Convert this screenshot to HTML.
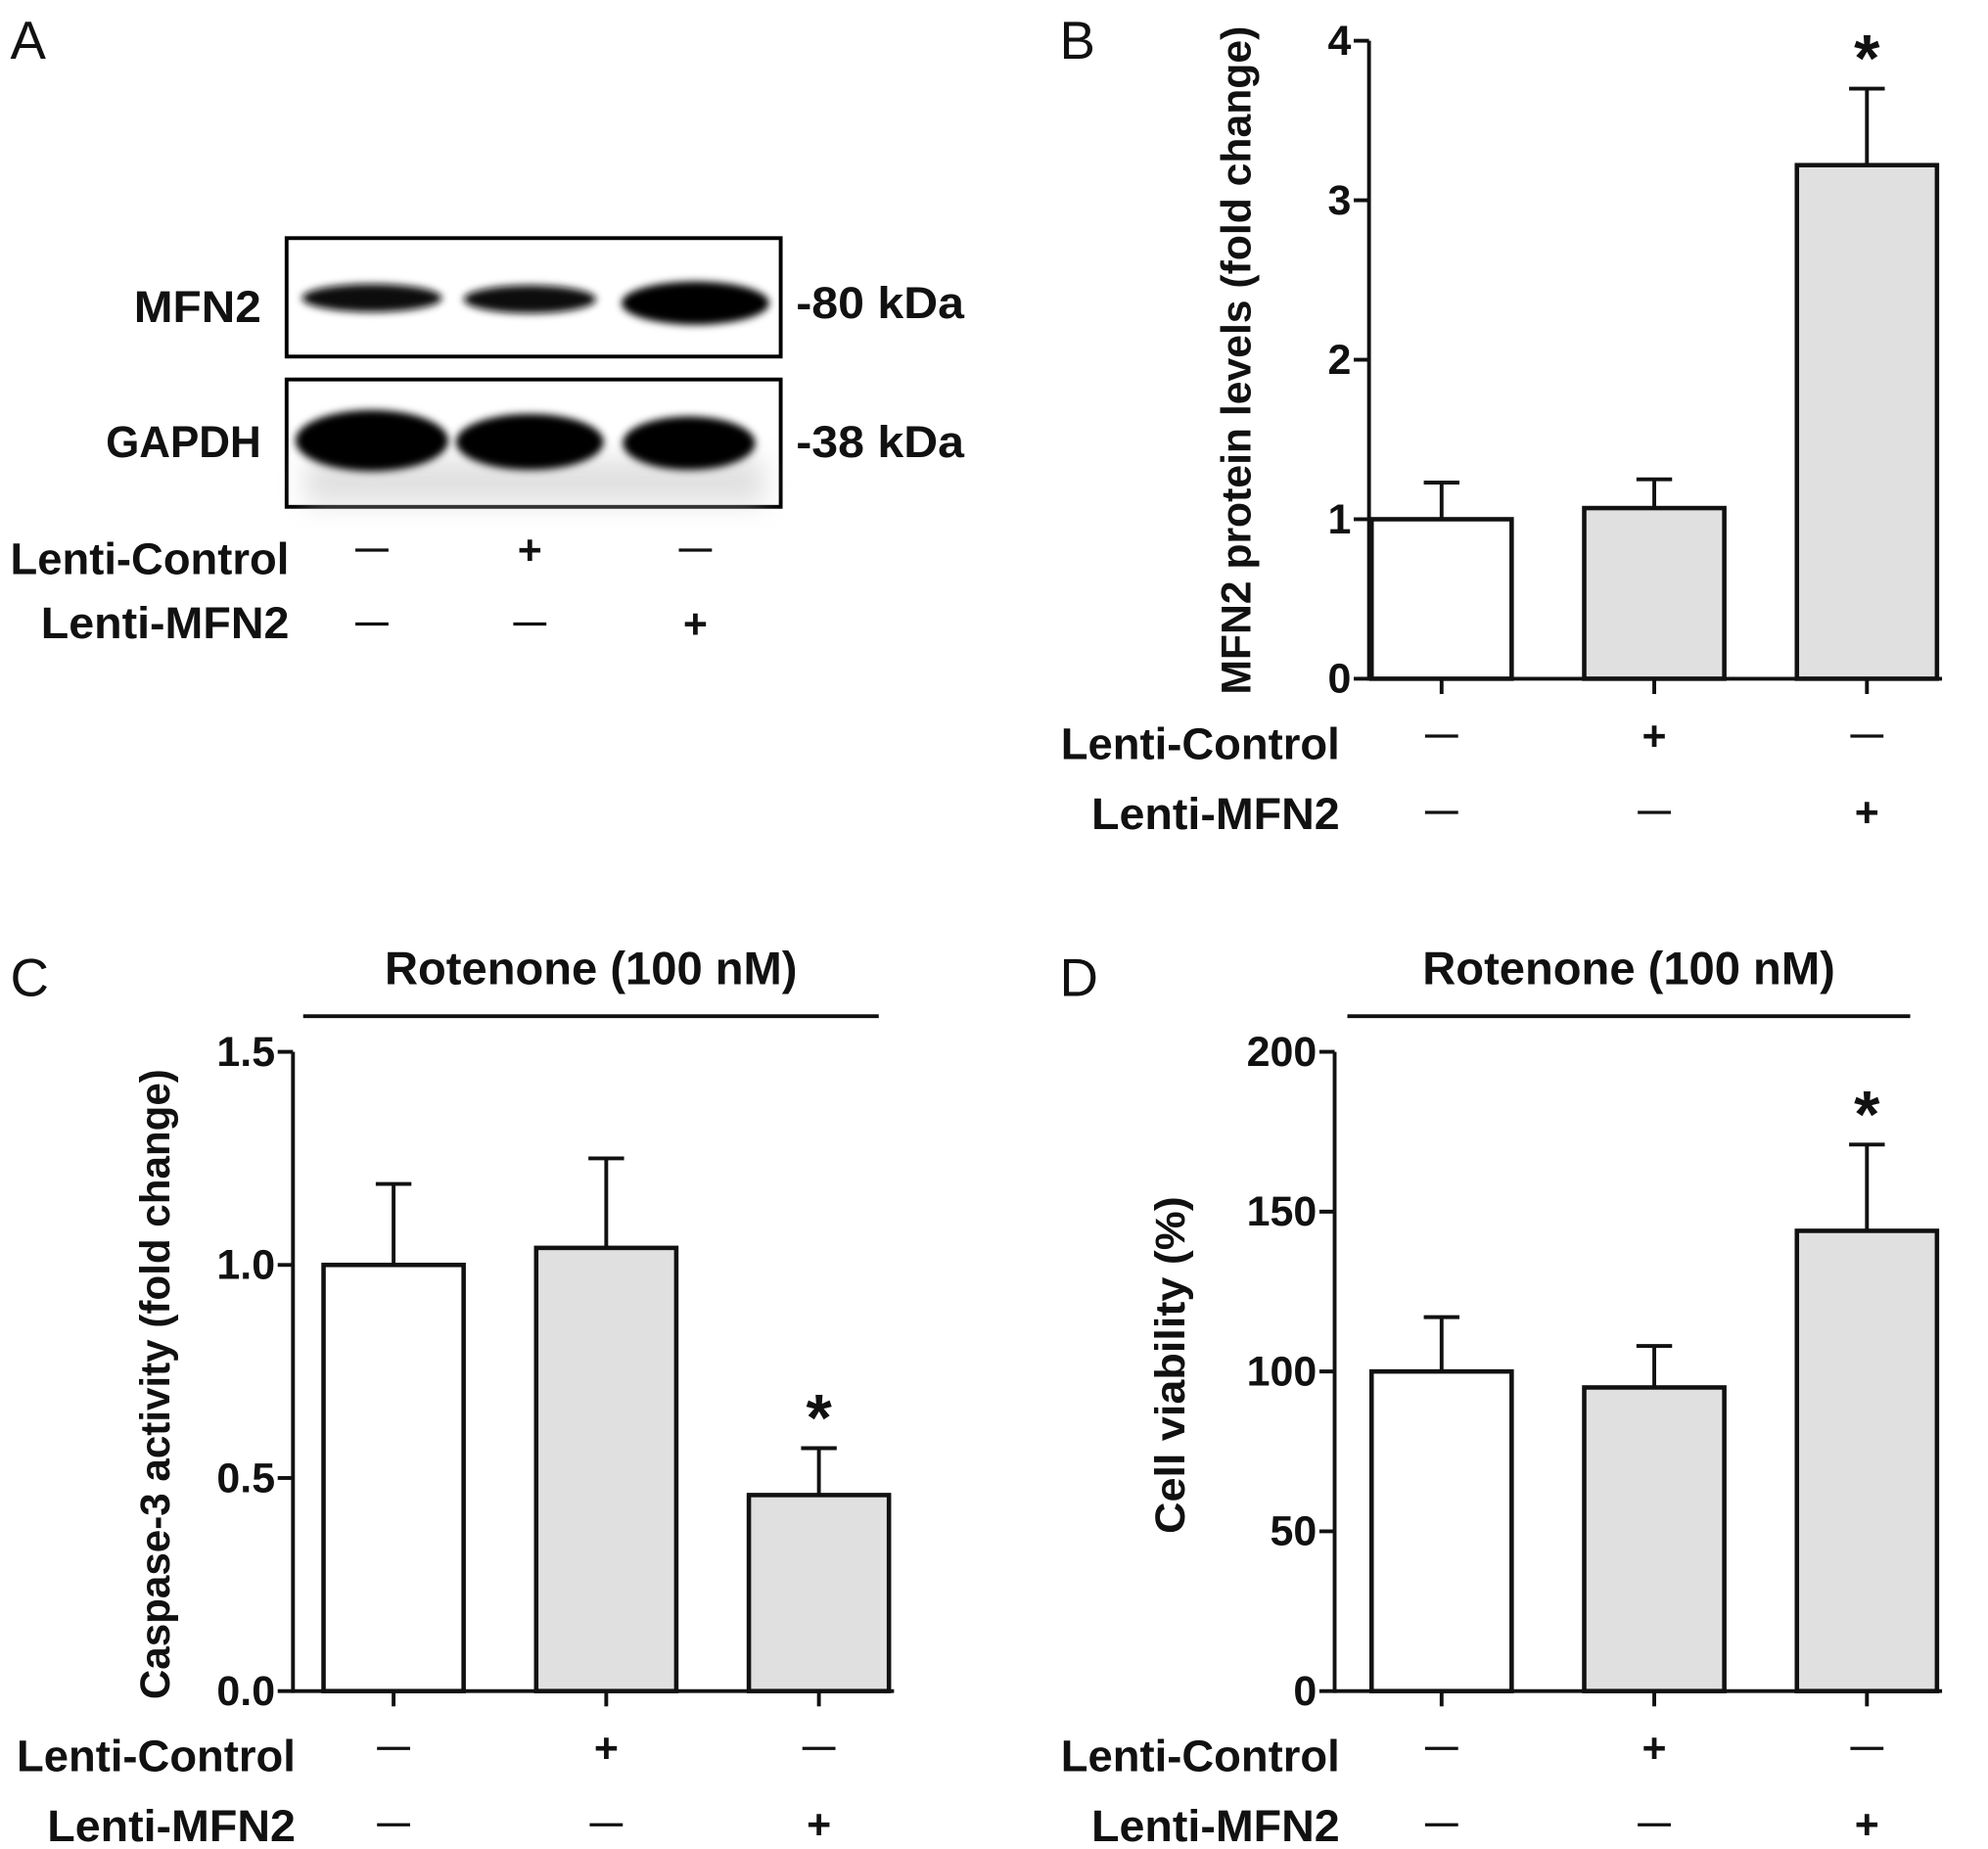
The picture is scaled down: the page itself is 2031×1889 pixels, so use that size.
<!DOCTYPE html>
<html><head><meta charset="utf-8"><style>
html,body{margin:0;padding:0;background:#fff}
svg{display:block}
text{font-family:"Liberation Sans",sans-serif;font-weight:bold;fill:#111}
</style></head><body>
<svg id="fig" width="2031" height="1889" viewBox="0 0 1561 1452" xmlns="http://www.w3.org/2000/svg">
<defs><filter id="blur" x="-20%" y="-50%" width="140%" height="200%"><feGaussianBlur stdDeviation="3"/></filter>
<filter id="blur2" x="-20%" y="-50%" width="140%" height="200%"><feGaussianBlur stdDeviation="10"/></filter></defs>
<g>
<text x="8" y="46" font-size="42" style="font-weight:normal">A</text>
<rect x="225" y="187" width="388" height="93" fill="#fff" stroke="#000" stroke-width="3"/>
<ellipse cx="292" cy="234" rx="55" ry="11" fill="#111" filter="url(#blur)"/>
<ellipse cx="416" cy="235" rx="52" ry="11" fill="#111" filter="url(#blur)"/>
<ellipse cx="546" cy="238" rx="58" ry="17" fill="#000" filter="url(#blur)"/>
<rect x="225" y="298" width="388" height="100" fill="#fff" stroke="#000" stroke-width="3"/>
<rect x="240" y="360" width="360" height="36" fill="#ccc" filter="url(#blur2)" opacity="0.6"/>
<ellipse cx="292" cy="346" rx="60" ry="24" fill="#000" filter="url(#blur)"/>
<ellipse cx="416" cy="347" rx="58" ry="22" fill="#050505" filter="url(#blur)"/>
<ellipse cx="541" cy="348" rx="52" ry="21" fill="#050505" filter="url(#blur)"/>
<text x="205" y="253" font-size="35" text-anchor="end" textLength="100" lengthAdjust="spacingAndGlyphs">MFN2</text>
<text x="205" y="359" font-size="35" text-anchor="end" textLength="122" lengthAdjust="spacingAndGlyphs">GAPDH</text>
<text x="625" y="250" font-size="35" textLength="132" lengthAdjust="spacingAndGlyphs">-80 kDa</text>
<text x="625" y="359" font-size="35" textLength="132" lengthAdjust="spacingAndGlyphs">-38 kDa</text>
<text x="8" y="451" font-size="35" textLength="219" lengthAdjust="spacingAndGlyphs">Lenti-Control</text>
<text x="32" y="501" font-size="35" textLength="195" lengthAdjust="spacingAndGlyphs">Lenti-MFN2</text>
<g id="signsA"></g>
</g>
<text x="832" y="46" font-size="42" style="font-weight:normal">B</text>
<text x="8" y="782" font-size="42" style="font-weight:normal">C</text>
<text x="832" y="782" font-size="42" style="font-weight:normal">D</text>
<g id="chartB"></g>
<g id="chartC"></g>
<g id="chartD"></g>
</svg>
<script>
const categories=["Lenti-Control","Lenti-Control +","Lenti-MFN2 +"];
const controlSigns=["-","+","-"];
const mfn2Signs=["-","-","+"];
const valuesB=[1.0,1.07,3.22];
const errorsB=[0.23,0.18,0.48];
const sigB=[false,false,true];
const ticksB=[0,1,2,3,4];
const tickLabelsB=["0","1","2","3","4"];
const valuesC=[1.0,1.04,0.46];
const errorsC=[0.19,0.21,0.11];
const sigC=[false,false,true];
const ticksC=[0,0.5,1.0,1.5];
const tickLabelsC=["0.0","0.5","1.0","1.5"];
const valuesD=[100,95,144];
const errorsD=[17,13,27];
const sigD=[false,false,true];
const ticksD=[0,50,100,150,200];
const tickLabelsD=["0","50","100","150","200"];

const NS="http://www.w3.org/2000/svg";
function mk(parent,tag,attrs,txt){const e=document.createElementNS(NS,tag);for(const k in attrs)e.setAttribute(k,attrs[k]);if(txt!==undefined)e.textContent=txt;parent.appendChild(e);return e;}
function sign(g,s,cx,cy){
  if(s==="+"){const t=mk(g,"text",{x:cx,y:cy+11,"font-size":33,"text-anchor":"middle"},"+");
  
  }
  else{const l=mk(g,"line",{x1:cx-13,x2:cx+13,y1:cy,y2:cy,stroke:"#111","stroke-width":2.5});
  
  }
}
function signRows(g,xs,y1,y2){
  for(let i=0;i<xs.length;i++){sign(g,controlSigns[i],xs[i],y1);sign(g,mfn2Signs[i],xs[i],y2);}
}
signRows(document.getElementById("signsA"),[292,416,546],432,490);

function chart(id,o){
  const g=document.getElementById(id);
  const y=v=>o.y0-(v-o.min)/(o.max-o.min)*(o.y0-o.yTop);
  const xs=[o.x0+57,o.x0+224,o.x0+391];
  for(let i=0;i<o.vals.length;i++){
    const cx=xs[i];
    const top=y(o.vals[i]+o.errs[i]);
    const el=mk(g,"line",{x1:cx,x2:cx,y1:y(o.vals[i]),y2:top,stroke:"#111","stroke-width":3});
    
    
    const cap=mk(g,"line",{x1:cx-14,x2:cx+14,y1:top,y2:top,stroke:"#111","stroke-width":3});
    
    
    const b=mk(g,"rect",{x:cx-55,y:y(o.vals[i]),width:110,height:y(o.min)-y(o.vals[i]),fill:i===0?"#fff":"#e0e0e0",stroke:"#111","stroke-width":3.5});
    
    
    const t=mk(g,"line",{x1:cx,x2:cx,y1:o.y0,y2:o.y0+12,stroke:"#111","stroke-width":3});
    
    
    if(o.sig[i]){const s=mk(g,"text",{x:cx,y:top-6,"font-size":52,"text-anchor":"middle"},"*");
    
    }
  }
  const ax=mk(g,"line",{x1:o.ax,x2:o.ax,y1:o.yTop,y2:o.y0+1.5,stroke:"#111","stroke-width":3});
  
  
  const xa=mk(g,"line",{x1:o.ax,x2:o.x0+450,y1:o.y0,y2:o.y0,stroke:"#111","stroke-width":3});
  
  
  for(let i=0;i<o.ticks.length;i++){
    const yy=y(o.ticks[i]);
    const tk=mk(g,"line",{x1:o.ax-12,x2:o.ax,y1:yy,y2:yy,stroke:"#111","stroke-width":3});
    
    
    const tl=mk(g,"text",{x:o.ax-14,y:yy+11,"font-size":33,"text-anchor":"end"},o.labels[i]);
    
    
  }
  const yt=mk(g,"text",{x:0,y:0,"font-size":33,"text-anchor":"middle",textLength:o.titleLen,lengthAdjust:"spacingAndGlyphs",transform:`translate(${o.titleX},${o.titleY}) rotate(-90)`},o.title);
  
  
  const l1=mk(g,"text",{x:o.lx,y:o.y0+63,"font-size":35,"text-anchor":"end",textLength:219,lengthAdjust:"spacingAndGlyphs"},"Lenti-Control");
  
  
  const l2=mk(g,"text",{x:o.lx,y:o.y0+118,"font-size":35,"text-anchor":"end",textLength:195,lengthAdjust:"spacingAndGlyphs"},"Lenti-MFN2");
  
  
  signRows(g,xs,o.y0+45,o.y0+105);
  if(o.rot){
    const rl=mk(g,"line",{x1:o.rot[0],x2:o.rot[1],y1:798,y2:798,stroke:"#111","stroke-width":3});
    
    
    const rt=mk(g,"text",{x:(o.rot[0]+o.rot[1])/2,y:773,"font-size":36,"text-anchor":"middle",textLength:324,lengthAdjust:"spacingAndGlyphs"},"Rotenone (100 nM)");
    
    
  }
}
chart("chartB",{vals:valuesB,errs:errorsB,sig:sigB,ticks:ticksB,labels:tickLabelsB,min:0,max:4,y0:533,yTop:32,ax:1075,x0:1075,title:"MFN2 protein levels (fold change)",titleX:982,titleY:283,titleLen:525,lx:1052});
chart("chartC",{vals:valuesC,errs:errorsC,sig:sigC,ticks:ticksC,labels:tickLabelsC,min:0,max:1.5,y0:1328,yTop:826,ax:230,x0:252,title:"Caspase-3 activity (fold change)",titleX:133,titleY:1087,titleLen:495,lx:232,rot:[238,690]});
chart("chartD",{vals:valuesD,errs:errorsD,sig:sigD,ticks:ticksD,labels:tickLabelsD,min:0,max:200,y0:1328,yTop:826,ax:1048,x0:1075,title:"Cell viability (%)",titleX:930,titleY:1072,titleLen:265,lx:1052,rot:[1058,1500]});
</script>
</body></html>
